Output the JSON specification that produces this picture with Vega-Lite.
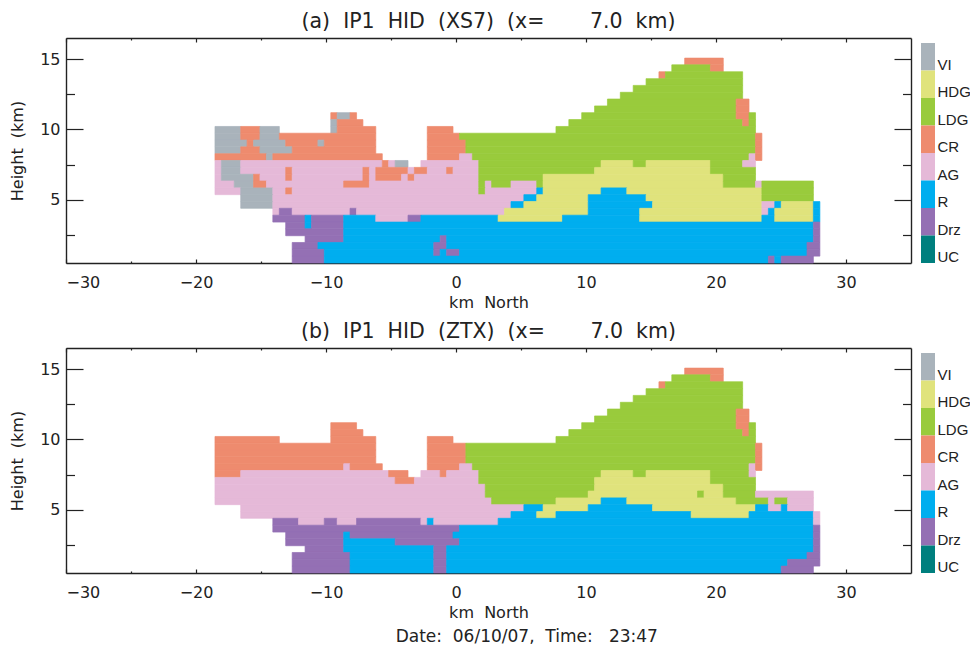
{"$schema":"https://vega.github.io/schema/vega-lite/v6.json","background":"white","padding":{"left":9,"top":11,"right":0,"bottom":0},"config":{"view":{"stroke":null},"font":"DejaVu Sans","title":{"font":"DejaVu Sans","fontSize":20.5,"fontWeight":"normal","color":"#222222","offset":5},"axis":{"grid":false,"domainColor":"#222222","tickColor":"#222222","domainWidth":1.4,"tickWidth":1.2,"labelColor":"#222222","titleColor":"#222222","labelFont":"DejaVu Sans","titleFont":"DejaVu Sans","labelFontSize":16,"titleFontSize":16,"titleFontWeight":"normal"}},"title":{"text":"Date:\u00a0\u00a006/10/07,\u00a0\u00a0Time:\u00a0\u00a0\u00a023:47","orient":"bottom","anchor":"start","fontSize":17,"dx":386,"offset":9},"datasets":{"legend":[{"c":"VI"},{"c":"HDG"},{"c":"LDG"},{"c":"CR"},{"c":"AG"},{"c":"R"},{"c":"Drz"},{"c":"UC"}],
"a":[
{"c":"CR","x0":17.59,"x1":20.56,"y0":14.59,"y1":15.07},
{"c":"LDG","x0":16.6,"x1":19.57,"y0":14.1,"y1":14.59},{"c":"CR","x0":19.57,"x1":20.56,"y0":14.1,"y1":14.59},
{"c":"CR","x0":15.61,"x1":16.11,"y0":13.61,"y1":14.1},{"c":"LDG","x0":16.11,"x1":22.05,"y0":13.61,"y1":14.1},
{"c":"LDG","x0":14.62,"x1":22.05,"y0":13.13,"y1":13.61},
{"c":"LDG","x0":13.63,"x1":22.05,"y0":12.64,"y1":13.13},
{"c":"LDG","x0":12.64,"x1":22.05,"y0":12.16,"y1":12.64},
{"c":"LDG","x0":11.65,"x1":21.55,"y0":11.67,"y1":12.16},{"c":"CR","x0":21.55,"x1":22.54,"y0":11.67,"y1":12.16},
{"c":"LDG","x0":10.66,"x1":21.55,"y0":11.19,"y1":11.67},{"c":"CR","x0":21.55,"x1":22.54,"y0":11.19,"y1":11.67},
{"c":"CR","x0":-9.63,"x1":-9.14,"y0":10.7,"y1":11.19},{"c":"VI","x0":-9.14,"x1":-8.15,"y0":10.7,"y1":11.19},{"c":"CR","x0":-8.15,"x1":-7.65,"y0":10.7,"y1":11.19},{"c":"LDG","x0":9.67,"x1":21.55,"y0":10.7,"y1":11.19},{"c":"CR","x0":21.55,"x1":22.54,"y0":10.7,"y1":11.19},{"c":"LDG","x0":22.54,"x1":23.04,"y0":10.7,"y1":11.19},
{"c":"VI","x0":-9.63,"x1":-9.14,"y0":10.21,"y1":10.7},{"c":"CR","x0":-9.14,"x1":-7.16,"y0":10.21,"y1":10.7},{"c":"LDG","x0":8.68,"x1":22.05,"y0":10.21,"y1":10.7},{"c":"CR","x0":22.05,"x1":22.54,"y0":10.21,"y1":10.7},{"c":"LDG","x0":22.54,"x1":23.04,"y0":10.21,"y1":10.7},
{"c":"VI","x0":-18.54,"x1":-16.56,"y0":9.73,"y1":10.21},{"c":"CR","x0":-16.56,"x1":-15.08,"y0":9.73,"y1":10.21},{"c":"VI","x0":-15.08,"x1":-13.59,"y0":9.73,"y1":10.21},{"c":"VI","x0":-9.63,"x1":-9.14,"y0":9.73,"y1":10.21},{"c":"CR","x0":-9.14,"x1":-6.17,"y0":9.73,"y1":10.21},{"c":"CR","x0":-2.21,"x1":-0.23,"y0":9.73,"y1":10.21},{"c":"LDG","x0":7.69,"x1":23.04,"y0":9.73,"y1":10.21},
{"c":"VI","x0":-18.54,"x1":-16.56,"y0":9.24,"y1":9.73},{"c":"CR","x0":-16.56,"x1":-15.08,"y0":9.24,"y1":9.73},{"c":"VI","x0":-15.08,"x1":-13.59,"y0":9.24,"y1":9.73},{"c":"CR","x0":-13.59,"x1":-6.17,"y0":9.24,"y1":9.73},{"c":"CR","x0":-2.21,"x1":0.27,"y0":9.24,"y1":9.73},{"c":"LDG","x0":0.27,"x1":23.04,"y0":9.24,"y1":9.73},{"c":"CR","x0":23.04,"x1":23.53,"y0":9.24,"y1":9.73},
{"c":"VI","x0":-18.54,"x1":-16.07,"y0":8.76,"y1":9.24},{"c":"CR","x0":-16.07,"x1":-15.57,"y0":8.76,"y1":9.24},{"c":"VI","x0":-15.57,"x1":-13.1,"y0":8.76,"y1":9.24},{"c":"CR","x0":-13.1,"x1":-10.62,"y0":8.76,"y1":9.24},{"c":"VI","x0":-10.62,"x1":-10.13,"y0":8.76,"y1":9.24},{"c":"CR","x0":-10.13,"x1":-6.17,"y0":8.76,"y1":9.24},{"c":"CR","x0":-2.21,"x1":0.76,"y0":8.76,"y1":9.24},{"c":"LDG","x0":0.76,"x1":23.04,"y0":8.76,"y1":9.24},{"c":"CR","x0":23.04,"x1":23.53,"y0":8.76,"y1":9.24},
{"c":"VI","x0":-18.54,"x1":-16.56,"y0":8.27,"y1":8.76},{"c":"CR","x0":-16.56,"x1":-15.08,"y0":8.27,"y1":8.76},{"c":"VI","x0":-15.08,"x1":-12.6,"y0":8.27,"y1":8.76},{"c":"CR","x0":-12.6,"x1":-6.17,"y0":8.27,"y1":8.76},{"c":"CR","x0":-2.21,"x1":0.76,"y0":8.27,"y1":8.76},{"c":"LDG","x0":0.76,"x1":23.04,"y0":8.27,"y1":8.76},{"c":"CR","x0":23.04,"x1":23.53,"y0":8.27,"y1":8.76},
{"c":"CR","x0":-18.54,"x1":-14.58,"y0":7.79,"y1":8.27},{"c":"VI","x0":-14.58,"x1":-14.09,"y0":7.79,"y1":8.27},{"c":"CR","x0":-14.09,"x1":-5.67,"y0":7.79,"y1":8.27},{"c":"CR","x0":-2.21,"x1":0.27,"y0":7.79,"y1":8.27},{"c":"AG","x0":0.27,"x1":1.26,"y0":7.79,"y1":8.27},{"c":"LDG","x0":1.26,"x1":22.54,"y0":7.79,"y1":8.27},{"c":"AG","x0":22.54,"x1":23.04,"y0":7.79,"y1":8.27},{"c":"CR","x0":23.04,"x1":23.53,"y0":7.79,"y1":8.27},
{"c":"AG","x0":-18.54,"x1":-18.05,"y0":7.3,"y1":7.79},{"c":"VI","x0":-18.05,"x1":-16.56,"y0":7.3,"y1":7.79},{"c":"AG","x0":-16.56,"x1":-5.67,"y0":7.3,"y1":7.79},{"c":"CR","x0":-5.67,"x1":-5.18,"y0":7.3,"y1":7.79},{"c":"AG","x0":-5.18,"x1":-4.68,"y0":7.3,"y1":7.79},{"c":"VI","x0":-4.68,"x1":-3.69,"y0":7.3,"y1":7.79},{"c":"AG","x0":-2.7,"x1":1.75,"y0":7.3,"y1":7.79},{"c":"LDG","x0":1.75,"x1":11.16,"y0":7.3,"y1":7.79},{"c":"HDG","x0":11.16,"x1":13.63,"y0":7.3,"y1":7.79},{"c":"LDG","x0":13.63,"x1":14.62,"y0":7.3,"y1":7.79},{"c":"HDG","x0":14.62,"x1":19.57,"y0":7.3,"y1":7.79},{"c":"LDG","x0":19.57,"x1":22.05,"y0":7.3,"y1":7.79},{"c":"AG","x0":22.05,"x1":23.04,"y0":7.3,"y1":7.79},
{"c":"AG","x0":-18.54,"x1":-18.05,"y0":6.81,"y1":7.3},{"c":"VI","x0":-18.05,"x1":-16.56,"y0":6.81,"y1":7.3},{"c":"AG","x0":-16.56,"x1":-13.1,"y0":6.81,"y1":7.3},{"c":"CR","x0":-13.1,"x1":-12.6,"y0":6.81,"y1":7.3},{"c":"AG","x0":-12.6,"x1":-7.16,"y0":6.81,"y1":7.3},{"c":"CR","x0":-7.16,"x1":-6.66,"y0":6.81,"y1":7.3},{"c":"AG","x0":-6.66,"x1":-6.17,"y0":6.81,"y1":7.3},{"c":"CR","x0":-6.17,"x1":-3.69,"y0":6.81,"y1":7.3},{"c":"AG","x0":-3.69,"x1":-3.2,"y0":6.81,"y1":7.3},{"c":"CR","x0":-3.2,"x1":-2.21,"y0":6.81,"y1":7.3},{"c":"AG","x0":-2.21,"x1":-0.72,"y0":6.81,"y1":7.3},{"c":"CR","x0":-0.72,"x1":-0.23,"y0":6.81,"y1":7.3},{"c":"AG","x0":-0.23,"x1":1.75,"y0":6.81,"y1":7.3},{"c":"LDG","x0":1.75,"x1":10.66,"y0":6.81,"y1":7.3},{"c":"HDG","x0":10.66,"x1":19.57,"y0":6.81,"y1":7.3},{"c":"LDG","x0":19.57,"x1":23.04,"y0":6.81,"y1":7.3},
{"c":"AG","x0":-18.54,"x1":-18.05,"y0":6.33,"y1":6.81},{"c":"VI","x0":-18.05,"x1":-15.57,"y0":6.33,"y1":6.81},{"c":"CR","x0":-15.57,"x1":-15.08,"y0":6.33,"y1":6.81},{"c":"AG","x0":-15.08,"x1":-13.1,"y0":6.33,"y1":6.81},{"c":"CR","x0":-13.1,"x1":-12.6,"y0":6.33,"y1":6.81},{"c":"AG","x0":-12.6,"x1":-7.16,"y0":6.33,"y1":6.81},{"c":"CR","x0":-7.16,"x1":-6.66,"y0":6.33,"y1":6.81},{"c":"AG","x0":-6.66,"x1":-6.17,"y0":6.33,"y1":6.81},{"c":"CR","x0":-6.17,"x1":-4.19,"y0":6.33,"y1":6.81},{"c":"AG","x0":-4.19,"x1":-3.69,"y0":6.33,"y1":6.81},{"c":"CR","x0":-3.69,"x1":-3.2,"y0":6.33,"y1":6.81},{"c":"AG","x0":-3.2,"x1":1.75,"y0":6.33,"y1":6.81},{"c":"LDG","x0":1.75,"x1":6.7,"y0":6.33,"y1":6.81},{"c":"HDG","x0":6.7,"x1":20.56,"y0":6.33,"y1":6.81},{"c":"LDG","x0":20.56,"x1":23.04,"y0":6.33,"y1":6.81},
{"c":"AG","x0":-18.54,"x1":-17.06,"y0":5.84,"y1":6.33},{"c":"VI","x0":-17.06,"x1":-15.57,"y0":5.84,"y1":6.33},{"c":"CR","x0":-15.57,"x1":-14.58,"y0":5.84,"y1":6.33},{"c":"AG","x0":-14.58,"x1":-8.64,"y0":5.84,"y1":6.33},{"c":"CR","x0":-8.64,"x1":-6.66,"y0":5.84,"y1":6.33},{"c":"AG","x0":-6.66,"x1":1.75,"y0":5.84,"y1":6.33},{"c":"LDG","x0":1.75,"x1":2.25,"y0":5.84,"y1":6.33},{"c":"AG","x0":2.25,"x1":2.74,"y0":5.84,"y1":6.33},{"c":"LDG","x0":2.74,"x1":4.23,"y0":5.84,"y1":6.33},{"c":"AG","x0":4.23,"x1":6.21,"y0":5.84,"y1":6.33},{"c":"LDG","x0":6.21,"x1":6.7,"y0":5.84,"y1":6.33},{"c":"HDG","x0":6.7,"x1":20.56,"y0":5.84,"y1":6.33},{"c":"LDG","x0":20.56,"x1":23.04,"y0":5.84,"y1":6.33},{"c":"AG","x0":23.04,"x1":23.53,"y0":5.84,"y1":6.33},{"c":"LDG","x0":23.53,"x1":27.49,"y0":5.84,"y1":6.33},
{"c":"AG","x0":-18.54,"x1":-16.56,"y0":5.36,"y1":5.84},{"c":"VI","x0":-16.56,"x1":-14.09,"y0":5.36,"y1":5.84},{"c":"AG","x0":-14.09,"x1":-13.1,"y0":5.36,"y1":5.84},{"c":"CR","x0":-13.1,"x1":-12.6,"y0":5.36,"y1":5.84},{"c":"AG","x0":-12.6,"x1":1.75,"y0":5.36,"y1":5.84},{"c":"LDG","x0":1.75,"x1":2.25,"y0":5.36,"y1":5.84},{"c":"AG","x0":2.25,"x1":6.21,"y0":5.36,"y1":5.84},{"c":"R","x0":6.21,"x1":6.7,"y0":5.36,"y1":5.84},{"c":"HDG","x0":6.7,"x1":11.16,"y0":5.36,"y1":5.84},{"c":"R","x0":11.16,"x1":13.14,"y0":5.36,"y1":5.84},{"c":"HDG","x0":13.14,"x1":23.53,"y0":5.36,"y1":5.84},{"c":"LDG","x0":23.53,"x1":27.49,"y0":5.36,"y1":5.84},
{"c":"VI","x0":-16.56,"x1":-14.09,"y0":4.87,"y1":5.36},{"c":"AG","x0":-14.09,"x1":5.22,"y0":4.87,"y1":5.36},{"c":"R","x0":5.22,"x1":6.21,"y0":4.87,"y1":5.36},{"c":"HDG","x0":6.21,"x1":10.17,"y0":4.87,"y1":5.36},{"c":"R","x0":10.17,"x1":14.62,"y0":4.87,"y1":5.36},{"c":"HDG","x0":14.62,"x1":23.53,"y0":4.87,"y1":5.36},{"c":"LDG","x0":23.53,"x1":27.49,"y0":4.87,"y1":5.36},
{"c":"VI","x0":-16.56,"x1":-14.09,"y0":4.39,"y1":4.87},{"c":"AG","x0":-14.09,"x1":4.23,"y0":4.39,"y1":4.87},{"c":"R","x0":4.23,"x1":5.22,"y0":4.39,"y1":4.87},{"c":"HDG","x0":5.22,"x1":10.17,"y0":4.39,"y1":4.87},{"c":"R","x0":10.17,"x1":15.12,"y0":4.39,"y1":4.87},{"c":"HDG","x0":15.12,"x1":23.53,"y0":4.39,"y1":4.87},{"c":"AG","x0":23.53,"x1":24.52,"y0":4.39,"y1":4.87},{"c":"R","x0":24.52,"x1":25.02,"y0":4.39,"y1":4.87},{"c":"HDG","x0":25.02,"x1":27.49,"y0":4.39,"y1":4.87},{"c":"R","x0":27.49,"x1":27.99,"y0":4.39,"y1":4.87},
{"c":"AG","x0":-14.09,"x1":-13.59,"y0":3.9,"y1":4.39},{"c":"Drz","x0":-13.59,"x1":-12.6,"y0":3.9,"y1":4.39},{"c":"AG","x0":-12.6,"x1":-8.15,"y0":3.9,"y1":4.39},{"c":"Drz","x0":-8.15,"x1":-7.65,"y0":3.9,"y1":4.39},{"c":"AG","x0":-7.65,"x1":3.73,"y0":3.9,"y1":4.39},{"c":"HDG","x0":3.73,"x1":10.17,"y0":3.9,"y1":4.39},{"c":"R","x0":10.17,"x1":14.13,"y0":3.9,"y1":4.39},{"c":"HDG","x0":14.13,"x1":23.53,"y0":3.9,"y1":4.39},{"c":"AG","x0":23.53,"x1":24.03,"y0":3.9,"y1":4.39},{"c":"R","x0":24.03,"x1":24.52,"y0":3.9,"y1":4.39},{"c":"HDG","x0":24.52,"x1":27.49,"y0":3.9,"y1":4.39},{"c":"R","x0":27.49,"x1":27.99,"y0":3.9,"y1":4.39},
{"c":"Drz","x0":-14.09,"x1":-11.61,"y0":3.41,"y1":3.9},{"c":"R","x0":-11.61,"x1":-11.12,"y0":3.41,"y1":3.9},{"c":"Drz","x0":-11.12,"x1":-8.64,"y0":3.41,"y1":3.9},{"c":"R","x0":-8.64,"x1":-6.17,"y0":3.41,"y1":3.9},{"c":"AG","x0":-6.17,"x1":-3.69,"y0":3.41,"y1":3.9},{"c":"Drz","x0":-3.69,"x1":-2.7,"y0":3.41,"y1":3.9},{"c":"R","x0":-2.7,"x1":3.24,"y0":3.41,"y1":3.9},{"c":"HDG","x0":3.24,"x1":8.19,"y0":3.41,"y1":3.9},{"c":"R","x0":8.19,"x1":14.13,"y0":3.41,"y1":3.9},{"c":"HDG","x0":14.13,"x1":23.53,"y0":3.41,"y1":3.9},{"c":"R","x0":23.53,"x1":24.52,"y0":3.41,"y1":3.9},{"c":"HDG","x0":24.52,"x1":27.49,"y0":3.41,"y1":3.9},{"c":"R","x0":27.49,"x1":27.99,"y0":3.41,"y1":3.9},
{"c":"Drz","x0":-13.1,"x1":-11.61,"y0":2.93,"y1":3.41},{"c":"R","x0":-11.61,"x1":-11.12,"y0":2.93,"y1":3.41},{"c":"Drz","x0":-11.12,"x1":-8.64,"y0":2.93,"y1":3.41},{"c":"R","x0":-8.64,"x1":27.49,"y0":2.93,"y1":3.41},{"c":"Drz","x0":27.49,"x1":27.99,"y0":2.93,"y1":3.41},
{"c":"Drz","x0":-13.1,"x1":-8.64,"y0":2.44,"y1":2.93},{"c":"R","x0":-8.64,"x1":27.49,"y0":2.44,"y1":2.93},{"c":"Drz","x0":27.49,"x1":27.99,"y0":2.44,"y1":2.93},
{"c":"Drz","x0":-11.61,"x1":-8.64,"y0":1.96,"y1":2.44},{"c":"R","x0":-8.64,"x1":-1.22,"y0":1.96,"y1":2.44},{"c":"Drz","x0":-1.22,"x1":-0.72,"y0":1.96,"y1":2.44},{"c":"R","x0":-0.72,"x1":27.49,"y0":1.96,"y1":2.44},{"c":"Drz","x0":27.49,"x1":27.99,"y0":1.96,"y1":2.44},
{"c":"Drz","x0":-12.6,"x1":-10.62,"y0":1.47,"y1":1.96},{"c":"R","x0":-10.62,"x1":-1.71,"y0":1.47,"y1":1.96},{"c":"Drz","x0":-1.71,"x1":-0.72,"y0":1.47,"y1":1.96},{"c":"R","x0":-0.72,"x1":27.0,"y0":1.47,"y1":1.96},{"c":"Drz","x0":27.0,"x1":27.99,"y0":1.47,"y1":1.96},
{"c":"Drz","x0":-12.6,"x1":-10.13,"y0":0.99,"y1":1.47},{"c":"R","x0":-10.13,"x1":-1.71,"y0":0.99,"y1":1.47},{"c":"Drz","x0":-1.71,"x1":-1.22,"y0":0.99,"y1":1.47},{"c":"R","x0":-1.22,"x1":-0.72,"y0":0.99,"y1":1.47},{"c":"Drz","x0":-0.72,"x1":0.27,"y0":0.99,"y1":1.47},{"c":"R","x0":0.27,"x1":27.0,"y0":0.99,"y1":1.47},{"c":"Drz","x0":27.0,"x1":27.99,"y0":0.99,"y1":1.47},
{"c":"Drz","x0":-12.6,"x1":-10.13,"y0":0.5,"y1":0.99},{"c":"R","x0":-10.13,"x1":24.03,"y0":0.5,"y1":0.99},{"c":"Drz","x0":24.03,"x1":24.52,"y0":0.5,"y1":0.99},{"c":"R","x0":24.52,"x1":25.02,"y0":0.5,"y1":0.99},{"c":"Drz","x0":25.02,"x1":27.49,"y0":0.5,"y1":0.99}
],
"b":[
{"c":"CR","x0":17.59,"x1":20.56,"y0":14.59,"y1":15.07},
{"c":"LDG","x0":16.6,"x1":19.57,"y0":14.1,"y1":14.59},{"c":"CR","x0":19.57,"x1":20.56,"y0":14.1,"y1":14.59},
{"c":"CR","x0":15.61,"x1":16.11,"y0":13.61,"y1":14.1},{"c":"LDG","x0":16.11,"x1":22.05,"y0":13.61,"y1":14.1},
{"c":"LDG","x0":14.62,"x1":22.05,"y0":13.13,"y1":13.61},
{"c":"LDG","x0":13.63,"x1":22.05,"y0":12.64,"y1":13.13},
{"c":"LDG","x0":12.64,"x1":22.05,"y0":12.16,"y1":12.64},
{"c":"LDG","x0":11.65,"x1":21.55,"y0":11.67,"y1":12.16},{"c":"CR","x0":21.55,"x1":22.54,"y0":11.67,"y1":12.16},
{"c":"LDG","x0":10.66,"x1":21.55,"y0":11.19,"y1":11.67},{"c":"CR","x0":21.55,"x1":22.54,"y0":11.19,"y1":11.67},
{"c":"CR","x0":-9.63,"x1":-7.65,"y0":10.7,"y1":11.19},{"c":"LDG","x0":9.67,"x1":21.55,"y0":10.7,"y1":11.19},{"c":"CR","x0":21.55,"x1":22.54,"y0":10.7,"y1":11.19},{"c":"LDG","x0":22.54,"x1":23.04,"y0":10.7,"y1":11.19},
{"c":"CR","x0":-9.63,"x1":-7.16,"y0":10.21,"y1":10.7},{"c":"LDG","x0":8.68,"x1":22.05,"y0":10.21,"y1":10.7},{"c":"CR","x0":22.05,"x1":22.54,"y0":10.21,"y1":10.7},{"c":"LDG","x0":22.54,"x1":23.04,"y0":10.21,"y1":10.7},
{"c":"CR","x0":-18.54,"x1":-13.59,"y0":9.73,"y1":10.21},{"c":"CR","x0":-9.63,"x1":-6.17,"y0":9.73,"y1":10.21},{"c":"CR","x0":-2.21,"x1":-0.23,"y0":9.73,"y1":10.21},{"c":"LDG","x0":7.69,"x1":23.04,"y0":9.73,"y1":10.21},
{"c":"CR","x0":-18.54,"x1":-6.17,"y0":9.24,"y1":9.73},{"c":"CR","x0":-2.21,"x1":0.76,"y0":9.24,"y1":9.73},{"c":"LDG","x0":0.76,"x1":23.04,"y0":9.24,"y1":9.73},{"c":"CR","x0":23.04,"x1":23.53,"y0":9.24,"y1":9.73},
{"c":"CR","x0":-18.54,"x1":-6.17,"y0":8.76,"y1":9.24},{"c":"CR","x0":-2.21,"x1":0.76,"y0":8.76,"y1":9.24},{"c":"LDG","x0":0.76,"x1":23.04,"y0":8.76,"y1":9.24},{"c":"CR","x0":23.04,"x1":23.53,"y0":8.76,"y1":9.24},
{"c":"CR","x0":-18.54,"x1":-6.17,"y0":8.27,"y1":8.76},{"c":"CR","x0":-2.21,"x1":0.76,"y0":8.27,"y1":8.76},{"c":"LDG","x0":0.76,"x1":23.04,"y0":8.27,"y1":8.76},{"c":"CR","x0":23.04,"x1":23.53,"y0":8.27,"y1":8.76},
{"c":"CR","x0":-18.54,"x1":-8.64,"y0":7.79,"y1":8.27},{"c":"AG","x0":-8.64,"x1":-8.15,"y0":7.79,"y1":8.27},{"c":"CR","x0":-8.15,"x1":-5.67,"y0":7.79,"y1":8.27},{"c":"CR","x0":-2.21,"x1":0.27,"y0":7.79,"y1":8.27},{"c":"AG","x0":0.27,"x1":1.26,"y0":7.79,"y1":8.27},{"c":"LDG","x0":1.26,"x1":22.54,"y0":7.79,"y1":8.27},{"c":"AG","x0":22.54,"x1":23.04,"y0":7.79,"y1":8.27},{"c":"CR","x0":23.04,"x1":23.53,"y0":7.79,"y1":8.27},
{"c":"CR","x0":-18.54,"x1":-16.56,"y0":7.3,"y1":7.79},{"c":"AG","x0":-16.56,"x1":-5.18,"y0":7.3,"y1":7.79},{"c":"CR","x0":-5.18,"x1":-3.69,"y0":7.3,"y1":7.79},{"c":"AG","x0":-2.7,"x1":-1.22,"y0":7.3,"y1":7.79},{"c":"CR","x0":-1.22,"x1":-0.72,"y0":7.3,"y1":7.79},{"c":"AG","x0":-0.72,"x1":1.75,"y0":7.3,"y1":7.79},{"c":"LDG","x0":1.75,"x1":11.16,"y0":7.3,"y1":7.79},{"c":"HDG","x0":11.16,"x1":13.63,"y0":7.3,"y1":7.79},{"c":"LDG","x0":13.63,"x1":14.62,"y0":7.3,"y1":7.79},{"c":"HDG","x0":14.62,"x1":19.57,"y0":7.3,"y1":7.79},{"c":"LDG","x0":19.57,"x1":22.54,"y0":7.3,"y1":7.79},{"c":"AG","x0":22.54,"x1":23.04,"y0":7.3,"y1":7.79},
{"c":"AG","x0":-18.54,"x1":-4.68,"y0":6.81,"y1":7.3},{"c":"CR","x0":-4.68,"x1":-3.2,"y0":6.81,"y1":7.3},{"c":"AG","x0":-3.2,"x1":1.75,"y0":6.81,"y1":7.3},{"c":"LDG","x0":1.75,"x1":10.66,"y0":6.81,"y1":7.3},{"c":"HDG","x0":10.66,"x1":19.57,"y0":6.81,"y1":7.3},{"c":"LDG","x0":19.57,"x1":23.04,"y0":6.81,"y1":7.3},
{"c":"AG","x0":-18.54,"x1":2.25,"y0":6.33,"y1":6.81},{"c":"LDG","x0":2.25,"x1":10.66,"y0":6.33,"y1":6.81},{"c":"HDG","x0":10.66,"x1":20.56,"y0":6.33,"y1":6.81},{"c":"LDG","x0":20.56,"x1":23.04,"y0":6.33,"y1":6.81},
{"c":"AG","x0":-18.54,"x1":2.25,"y0":5.84,"y1":6.33},{"c":"LDG","x0":2.25,"x1":10.17,"y0":5.84,"y1":6.33},{"c":"HDG","x0":10.17,"x1":18.58,"y0":5.84,"y1":6.33},{"c":"LDG","x0":18.58,"x1":19.08,"y0":5.84,"y1":6.33},{"c":"HDG","x0":19.08,"x1":20.56,"y0":5.84,"y1":6.33},{"c":"LDG","x0":20.56,"x1":23.04,"y0":5.84,"y1":6.33},{"c":"AG","x0":23.04,"x1":27.49,"y0":5.84,"y1":6.33},
{"c":"AG","x0":-18.54,"x1":2.74,"y0":5.36,"y1":5.84},{"c":"LDG","x0":2.74,"x1":7.69,"y0":5.36,"y1":5.84},{"c":"HDG","x0":7.69,"x1":11.16,"y0":5.36,"y1":5.84},{"c":"R","x0":11.16,"x1":13.14,"y0":5.36,"y1":5.84},{"c":"HDG","x0":13.14,"x1":21.55,"y0":5.36,"y1":5.84},{"c":"LDG","x0":21.55,"x1":24.03,"y0":5.36,"y1":5.84},{"c":"AG","x0":24.03,"x1":24.52,"y0":5.36,"y1":5.84},{"c":"LDG","x0":24.52,"x1":25.51,"y0":5.36,"y1":5.84},{"c":"AG","x0":25.51,"x1":27.49,"y0":5.36,"y1":5.84},
{"c":"AG","x0":-16.56,"x1":5.22,"y0":4.87,"y1":5.36},{"c":"R","x0":5.22,"x1":6.7,"y0":4.87,"y1":5.36},{"c":"HDG","x0":6.7,"x1":10.17,"y0":4.87,"y1":5.36},{"c":"R","x0":10.17,"x1":15.12,"y0":4.87,"y1":5.36},{"c":"HDG","x0":15.12,"x1":23.04,"y0":4.87,"y1":5.36},{"c":"R","x0":23.04,"x1":24.03,"y0":4.87,"y1":5.36},{"c":"AG","x0":24.03,"x1":25.02,"y0":4.87,"y1":5.36},{"c":"R","x0":25.02,"x1":25.51,"y0":4.87,"y1":5.36},{"c":"AG","x0":25.51,"x1":27.49,"y0":4.87,"y1":5.36},
{"c":"AG","x0":-16.56,"x1":4.23,"y0":4.39,"y1":4.87},{"c":"R","x0":4.23,"x1":6.21,"y0":4.39,"y1":4.87},{"c":"HDG","x0":6.21,"x1":7.69,"y0":4.39,"y1":4.87},{"c":"R","x0":7.69,"x1":18.09,"y0":4.39,"y1":4.87},{"c":"HDG","x0":18.09,"x1":22.54,"y0":4.39,"y1":4.87},{"c":"R","x0":22.54,"x1":27.49,"y0":4.39,"y1":4.87},{"c":"AG","x0":27.49,"x1":27.99,"y0":4.39,"y1":4.87},
{"c":"Drz","x0":-14.09,"x1":-12.11,"y0":3.9,"y1":4.39},{"c":"AG","x0":-12.11,"x1":-10.13,"y0":3.9,"y1":4.39},{"c":"Drz","x0":-10.13,"x1":-9.14,"y0":3.9,"y1":4.39},{"c":"AG","x0":-9.14,"x1":-7.65,"y0":3.9,"y1":4.39},{"c":"Drz","x0":-7.65,"x1":-2.7,"y0":3.9,"y1":4.39},{"c":"AG","x0":-2.7,"x1":-2.21,"y0":3.9,"y1":4.39},{"c":"R","x0":-2.21,"x1":-1.71,"y0":3.9,"y1":4.39},{"c":"AG","x0":-1.71,"x1":3.24,"y0":3.9,"y1":4.39},{"c":"R","x0":3.24,"x1":27.49,"y0":3.9,"y1":4.39},{"c":"AG","x0":27.49,"x1":27.99,"y0":3.9,"y1":4.39},
{"c":"Drz","x0":-14.09,"x1":0.27,"y0":3.41,"y1":3.9},{"c":"R","x0":0.27,"x1":27.49,"y0":3.41,"y1":3.9},{"c":"Drz","x0":27.49,"x1":27.99,"y0":3.41,"y1":3.9},
{"c":"Drz","x0":-13.1,"x1":-8.64,"y0":2.93,"y1":3.41},{"c":"R","x0":-8.64,"x1":-8.15,"y0":2.93,"y1":3.41},{"c":"Drz","x0":-8.15,"x1":-0.23,"y0":2.93,"y1":3.41},{"c":"R","x0":-0.23,"x1":27.49,"y0":2.93,"y1":3.41},{"c":"Drz","x0":27.49,"x1":27.99,"y0":2.93,"y1":3.41},
{"c":"Drz","x0":-13.1,"x1":-8.64,"y0":2.44,"y1":2.93},{"c":"R","x0":-8.64,"x1":-4.68,"y0":2.44,"y1":2.93},{"c":"Drz","x0":-4.68,"x1":0.27,"y0":2.44,"y1":2.93},{"c":"R","x0":0.27,"x1":27.49,"y0":2.44,"y1":2.93},{"c":"Drz","x0":27.49,"x1":27.99,"y0":2.44,"y1":2.93},
{"c":"Drz","x0":-11.61,"x1":-8.64,"y0":1.96,"y1":2.44},{"c":"R","x0":-8.64,"x1":-1.71,"y0":1.96,"y1":2.44},{"c":"Drz","x0":-1.71,"x1":-0.72,"y0":1.96,"y1":2.44},{"c":"R","x0":-0.72,"x1":27.49,"y0":1.96,"y1":2.44},{"c":"Drz","x0":27.49,"x1":27.99,"y0":1.96,"y1":2.44},
{"c":"Drz","x0":-12.6,"x1":-8.15,"y0":1.47,"y1":1.96},{"c":"R","x0":-8.15,"x1":-1.71,"y0":1.47,"y1":1.96},{"c":"Drz","x0":-1.71,"x1":-0.72,"y0":1.47,"y1":1.96},{"c":"R","x0":-0.72,"x1":27.0,"y0":1.47,"y1":1.96},{"c":"Drz","x0":27.0,"x1":27.99,"y0":1.47,"y1":1.96},
{"c":"Drz","x0":-12.6,"x1":-8.15,"y0":0.99,"y1":1.47},{"c":"R","x0":-8.15,"x1":-1.71,"y0":0.99,"y1":1.47},{"c":"Drz","x0":-1.71,"x1":-0.72,"y0":0.99,"y1":1.47},{"c":"R","x0":-0.72,"x1":25.51,"y0":0.99,"y1":1.47},{"c":"Drz","x0":25.51,"x1":27.99,"y0":0.99,"y1":1.47},
{"c":"Drz","x0":-12.6,"x1":-8.15,"y0":0.5,"y1":0.99},{"c":"R","x0":-8.15,"x1":-1.71,"y0":0.5,"y1":0.99},{"c":"Drz","x0":-1.71,"x1":-0.72,"y0":0.5,"y1":0.99},{"c":"R","x0":-0.72,"x1":25.02,"y0":0.5,"y1":0.99},{"c":"Drz","x0":25.02,"x1":27.49,"y0":0.5,"y1":0.99}
]},
"vconcat":[
{"hconcat":[
{"width":845,"height":225,"title":"(a)\u00a0\u00a0IP1\u00a0\u00a0HID\u00a0\u00a0(XS7)\u00a0\u00a0(x=\u00a0\u00a0\u00a0\u00a0\u00a0\u00a0\u00a07.0\u00a0\u00a0km)","data":{"name":"a"},"resolve":{"axis":{"x":"independent","y":"independent"}},"layer":[
{"mark":{"type":"rect","strokeWidth":0.7},"encoding":{"x":{"field":"x0","type":"quantitative","scale":{"domain":[-30,35],"nice":false,"zero":false},"axis":{"orient":"bottom","title":"km\u00a0\u00a0North","values":[-30,-25,-20,-15,-10,-5,0,5,10,15,20,25,30],"labelExpr":"datum.value%10===0?datum.label:''","tickSize":{"expr":"datum.value%10===0?-4:-2"},"labelPadding":15,"titlePadding":4}},"x2":{"field":"x1"},"y":{"field":"y0","type":"quantitative","scale":{"domain":[0.5,16.5],"nice":false,"zero":false},"axis":{"orient":"left","title":"Height\u00a0\u00a0(km)","values":[2.5,5,7.5,10,12.5,15],"labelExpr":"datum.value%5===0?datum.label:''","tickSize":{"expr":"datum.value%5===0?-17:-8.5"},"labelPadding":23,"titlePadding":14}},"y2":{"field":"y1"},"color":{"field":"c","type":"nominal","legend":null,"scale":{"domain":["VI","HDG","LDG","CR","AG","R","Drz","UC"],"range":["#A9B3BB","#E0E37C","#99CB3C","#EE8B6E","#E5B9D8","#00AEEF","#9470B4","#007F7E"]}},"stroke":{"field":"c","type":"nominal","legend":null,"scale":{"domain":["VI","HDG","LDG","CR","AG","R","Drz","UC"],"range":["#A9B3BB","#E0E37C","#99CB3C","#EE8B6E","#E5B9D8","#00AEEF","#9470B4","#007F7E"]}}}},
{"mark":{"type":"rect","opacity":0},"encoding":{"x":{"field":"x0","type":"quantitative","axis":{"orient":"top","title":null,"labels":false,"values":[-30,-25,-20,-15,-10,-5,0,5,10,15,20,25,30],"tickSize":{"expr":"datum.value%10===0?-4:-2"}}},"x2":{"field":"x1"},"y":{"field":"y0","type":"quantitative","axis":{"orient":"right","title":null,"labels":false,"values":[2.5,5,7.5,10,12.5,15],"tickSize":{"expr":"datum.value%5===0?-17:-8.5"}}},"y2":{"field":"y1"}}}
]},
{"width":14,"height":225,"data":{"name":"legend"},"mark":{"type":"rect","strokeWidth":0},"encoding":{"y":{"field":"c","type":"nominal","sort":null,"scale":{"domain":["VI","HDG","LDG","CR","AG","R","Drz","UC"],"range":[5,225]},"axis":{"orient":"right","title":null,"domain":false,"ticks":false,"labelPadding":2,"labelOffset":8,"labelFont":"Liberation Sans","labelFontSize":15}},"color":{"field":"c","type":"nominal","legend":null}}}
],"spacing":9},
{"hconcat":[
{"width":845,"height":225,"title":"(b)\u00a0\u00a0IP1\u00a0\u00a0HID\u00a0\u00a0(ZTX)\u00a0\u00a0(x=\u00a0\u00a0\u00a0\u00a0\u00a0\u00a0\u00a07.0\u00a0\u00a0km)","data":{"name":"b"},"resolve":{"axis":{"x":"independent","y":"independent"}},"layer":[
{"mark":{"type":"rect","strokeWidth":0.7},"encoding":{"x":{"field":"x0","type":"quantitative","scale":{"domain":[-30,35],"nice":false,"zero":false},"axis":{"orient":"bottom","title":"km\u00a0\u00a0North","values":[-30,-25,-20,-15,-10,-5,0,5,10,15,20,25,30],"labelExpr":"datum.value%10===0?datum.label:''","tickSize":{"expr":"datum.value%10===0?-4:-2"},"labelPadding":15,"titlePadding":4}},"x2":{"field":"x1"},"y":{"field":"y0","type":"quantitative","scale":{"domain":[0.5,16.5],"nice":false,"zero":false},"axis":{"orient":"left","title":"Height\u00a0\u00a0(km)","values":[2.5,5,7.5,10,12.5,15],"labelExpr":"datum.value%5===0?datum.label:''","tickSize":{"expr":"datum.value%5===0?-17:-8.5"},"labelPadding":23,"titlePadding":14}},"y2":{"field":"y1"},"color":{"field":"c","type":"nominal","legend":null,"scale":{"domain":["VI","HDG","LDG","CR","AG","R","Drz","UC"],"range":["#A9B3BB","#E0E37C","#99CB3C","#EE8B6E","#E5B9D8","#00AEEF","#9470B4","#007F7E"]}},"stroke":{"field":"c","type":"nominal","legend":null,"scale":{"domain":["VI","HDG","LDG","CR","AG","R","Drz","UC"],"range":["#A9B3BB","#E0E37C","#99CB3C","#EE8B6E","#E5B9D8","#00AEEF","#9470B4","#007F7E"]}}}},
{"mark":{"type":"rect","opacity":0},"encoding":{"x":{"field":"x0","type":"quantitative","axis":{"orient":"top","title":null,"labels":false,"values":[-30,-25,-20,-15,-10,-5,0,5,10,15,20,25,30],"tickSize":{"expr":"datum.value%10===0?-4:-2"}}},"x2":{"field":"x1"},"y":{"field":"y0","type":"quantitative","axis":{"orient":"right","title":null,"labels":false,"values":[2.5,5,7.5,10,12.5,15],"tickSize":{"expr":"datum.value%5===0?-17:-8.5"}}},"y2":{"field":"y1"}}}
]},
{"width":14,"height":225,"data":{"name":"legend"},"mark":{"type":"rect","strokeWidth":0},"encoding":{"y":{"field":"c","type":"nominal","sort":null,"scale":{"domain":["VI","HDG","LDG","CR","AG","R","Drz","UC"],"range":[5,225]},"axis":{"orient":"right","title":null,"domain":false,"ticks":false,"labelPadding":2,"labelOffset":8,"labelFont":"Liberation Sans","labelFontSize":15}},"color":{"field":"c","type":"nominal","legend":null}}}
],"spacing":9}
],"spacing":11}
